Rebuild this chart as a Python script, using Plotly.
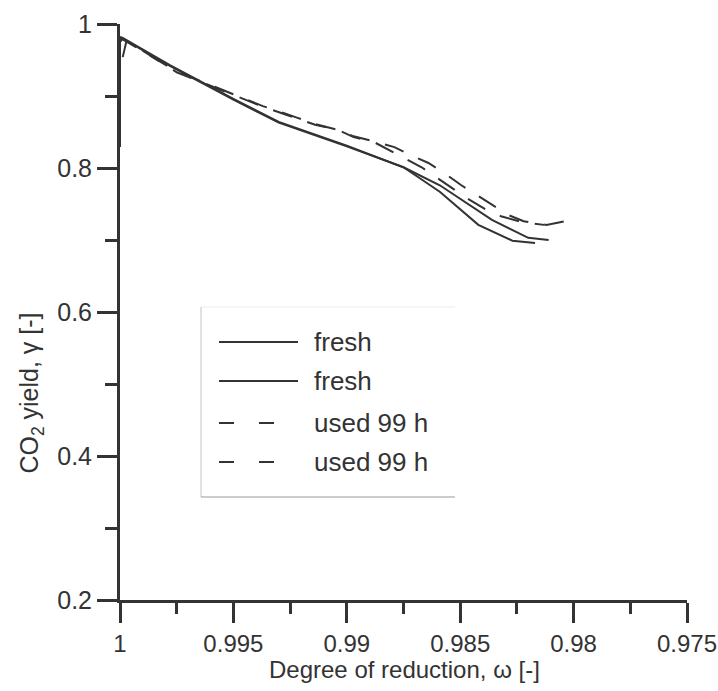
import plotly.graph_objects as go

# CO2 yield vs degree of reduction for fresh and used (99 h) samples
fresh_a_x = [1.0, 1.0, 0.9999, 0.9978, 0.9950, 0.9930, 0.9900, 0.9875, 0.9859, 0.9842, 0.9827, 0.9817]
fresh_a_y = [0.829, 0.982, 0.981, 0.943, 0.896, 0.864, 0.831, 0.801, 0.767, 0.721, 0.699, 0.696]

fresh_b_x = [1.0, 0.9999, 0.9978, 0.9950, 0.9930, 0.9900, 0.9875, 0.9859, 0.9836, 0.9820, 0.9811]
fresh_b_y = [0.975, 0.980, 0.942, 0.895, 0.863, 0.830, 0.801, 0.776, 0.728, 0.703, 0.700]

used_a_x = [0.99988, 0.99971, 0.9975, 0.99525, 0.9937, 0.9922, 0.9914, 0.9904, 0.9897, 0.9888,
            0.9882, 0.9875, 0.9867, 0.9861, 0.9853, 0.9847, 0.9839, 0.9832, 0.9823, 0.9813]
used_a_y = [0.954, 0.977, 0.933, 0.904, 0.885, 0.869, 0.860, 0.853, 0.843, 0.836,
            0.826, 0.815, 0.801, 0.788, 0.771, 0.758, 0.743, 0.733, 0.725, 0.721]

used_b_x = [1.0, 0.9999, 0.9975, 0.99525, 0.9937, 0.9922, 0.9914, 0.9904, 0.9897, 0.9888, 0.9879,
            0.9872, 0.9864, 0.9857, 0.98495, 0.9843, 0.9835, 0.9829, 0.9822, 0.9812, 0.9804, 0.9800]
used_b_y = [0.975, 0.979, 0.934, 0.905, 0.886, 0.870, 0.861, 0.853, 0.844, 0.837, 0.829,
            0.818, 0.807, 0.793, 0.776, 0.763, 0.747, 0.735, 0.726, 0.721, 0.726, 0.733]

series_names = ["fresh", "fresh", "used 99 h", "used 99 h"]

x_tickvals = [1.0, 0.995, 0.99, 0.985, 0.98, 0.975]
x_ticktext = ["1", "0.995", "0.99", "0.985", "0.98", "0.975"]
x_minor = [0.9975, 0.9925, 0.9875, 0.9825, 0.9775]
y_tickvals = [0.2, 0.4, 0.6, 0.8, 1.0]
y_ticktext = ["0.2", "0.4", "0.6", "0.8", "1"]
y_minor = [0.3, 0.5, 0.7, 0.9]

INK = "#333333"
FONT = "Liberation Sans, Arial, sans-serif"
SOLID = "solid"
DASHED = "20px,16px"

fig = go.Figure()
curves = [
    (fresh_a_x, fresh_a_y, SOLID),
    (fresh_b_x, fresh_b_y, SOLID),
    (used_a_x, used_a_y, DASHED),
    (used_b_x, used_b_y, DASHED),
]
for (xs, ys, dash), name in zip(curves, series_names):
    fig.add_trace(go.Scatter(
        x=xs, y=ys, mode="lines", name=name, showlegend=False,
        line=dict(color=INK, width=2, dash=dash),
    ))

# Hand-built legend box (left/bottom framed) inside the plot area
leg_rows = [0.4479, 0.3802, 0.3073, 0.2396]
leg_dash = [SOLID, SOLID, "15px,25px", "15px,25px"]
shapes = [
    dict(type="line", xref="paper", yref="paper", x0=0.1429, x1=0.1429, y0=0.1788, y1=0.5087,
         line=dict(color="#c4c4c4", width=1)),
    dict(type="line", xref="paper", yref="paper", x0=0.1429, x1=0.5908, y0=0.1788, y1=0.1788,
         line=dict(color="#9a9a9a", width=1)),
    dict(type="line", xref="paper", yref="paper", x0=0.1429, x1=0.5908, y0=0.5087, y1=0.5087,
         line=dict(color="#ececec", width=1)),
]
annotations = []
for yy, dash, name in zip(leg_rows, leg_dash, series_names):
    shapes.append(dict(type="line", xref="paper", yref="paper", x0=0.1746, x1=0.3139, y0=yy, y1=yy,
                       line=dict(color=INK, width=2, dash=dash)))
    annotations.append(dict(xref="paper", yref="paper", x=0.3386, y=yy, text=name, showarrow=False,
                            xanchor="left", yanchor="middle", font=dict(family=FONT, size=26, color=INK)))

annotations.append(dict(xref="paper", yref="paper", x=0.5026, y=-0.1215,
                        text="Degree of reduction, \u03c9 [-]", showarrow=False,
                        xanchor="center", yanchor="middle", font=dict(family=FONT, size=24, color=INK)))
annotations.append(dict(xref="paper", yref="paper", x=-0.157, y=0.36,
                        text="CO<sub>2</sub> yield, \u03b3 [-]", showarrow=False, textangle=-90,
                        xanchor="center", yanchor="middle", font=dict(family=FONT, size=25, color=INK)))

fig.update_layout(
    width=718, height=691,
    margin=dict(l=120, r=31, t=24, b=91),
    paper_bgcolor="white", plot_bgcolor="white",
    font=dict(family=FONT, size=25, color=INK),
    shapes=shapes, annotations=annotations,
    showlegend=False,
)
fig.update_xaxes(
    range=[1.0, 0.975], showgrid=False, zeroline=False, automargin=False,
    showline=True, linecolor=INK, linewidth=3,
    tickmode="array", tickvals=x_tickvals, ticktext=x_ticktext,
    ticks="outside", ticklen=20, tickwidth=3, tickcolor=INK,
    ticklabeloverflow="allow", ticklabelstandoff=0,
    tickfont=dict(family=FONT, size=24, color=INK),
    minor=dict(tickmode="array", tickvals=x_minor, ticks="outside", ticklen=11, tickwidth=3, tickcolor=INK),
)
fig.update_yaxes(
    range=[0.2, 1.0], showgrid=False, zeroline=False, automargin=False,
    showline=True, linecolor=INK, linewidth=3,
    tickmode="array", tickvals=y_tickvals, ticktext=y_ticktext,
    ticks="outside", ticklen=20, tickwidth=3, tickcolor=INK,
    tickfont=dict(family=FONT, size=25, color=INK),
    minor=dict(tickmode="array", tickvals=y_minor, ticks="outside", ticklen=12, tickwidth=3, tickcolor=INK),
)

fig.write_html("out.html")
